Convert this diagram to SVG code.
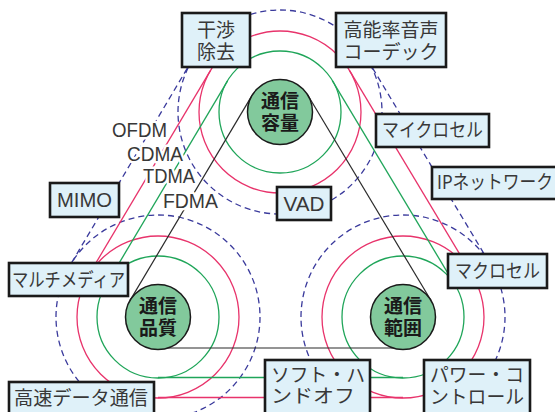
<svg xmlns="http://www.w3.org/2000/svg" width="555" height="412" viewBox="0 0 555 412">
<style>
.bg{fill:#ffffff}
.g{fill:none;stroke:#1fa559;stroke-width:1.3}
.r{fill:none;stroke:#e8336b;stroke-width:1.3}
.d{fill:none;stroke:#3a3a9c;stroke-width:1.3;stroke-dasharray:6 4}
.k{fill:none;stroke:#2a2a2a;stroke-width:1.2}
.node{fill:#82c99c;stroke:#1a1a1a;stroke-width:1.5}
.nt{font-family:"Noto Sans CJK JP","Noto Sans CJK SC",sans-serif;font-size:19px;font-weight:bold;fill:#1a1a1a;text-anchor:middle}
.box{fill:#dff1f9;stroke:#1a1a1a;stroke-width:2.6}
.bt{font-family:"Noto Sans CJK JP","Noto Sans CJK SC",sans-serif;font-size:19px;fill:#383838}
.lt{font-family:"Liberation Sans",Arial,sans-serif;font-size:20px;fill:#383838}
.c{text-anchor:middle}
.halo{paint-order:stroke;stroke:#ffffff;stroke-width:5;stroke-linejoin:round}
</style>
<rect class="bg" x="0" y="0" width="555" height="412"/>
<g id="rings">
<circle class="g" cx="280" cy="112" r="61"/>
<circle class="r" cx="280" cy="112" r="81"/>
<circle class="d" cx="280" cy="112" r="102"/>
<circle class="g" cx="158" cy="317" r="61"/>
<circle class="r" cx="158" cy="317" r="81"/>
<circle class="d" cx="158" cy="317" r="102"/>
<circle class="g" cx="403" cy="317" r="61"/>
<circle class="r" cx="403" cy="317" r="81"/>
<circle class="d" cx="403" cy="317" r="102"/>
</g>
<g id="connectors">
<line class="g" x1="227.58" y1="80.8" x2="105.58" y2="285.8"/>
<line class="g" x1="332.31" y1="80.62" x2="455.31" y2="285.62"/>
<line class="g" x1="158" y1="377.5" x2="403" y2="377.5"/>
<line class="r" x1="210.39" y1="70.58" x2="88.39" y2="275.58"/>
<line class="r" x1="349.46" y1="70.33" x2="472.46" y2="275.33"/>
<line class="r" x1="158" y1="397.5" x2="403" y2="397.5"/>
<line class="d" x1="192.34" y1="59.84" x2="70.34" y2="264.84"/>
<line class="d" x1="367.47" y1="59.52" x2="490.47" y2="264.52"/>
<line class="d" x1="158" y1="419" x2="403" y2="419"/>
<line class="k" x1="252.07" y1="95.38" x2="130.07" y2="300.38"/>
<line class="k" x1="307.87" y1="95.28" x2="430.87" y2="300.28"/>
<line class="k" x1="158" y1="348" x2="403" y2="348"/>
</g>
<g id="n-capacity">
<circle class="node" cx="280" cy="112" r="32.5"/>
<text class="nt" x="280" y="107.5">通信</text>
<text class="nt" x="280" y="130">容量</text>
</g>
<g id="n-quality">
<circle class="node" cx="158" cy="317" r="32.5"/>
<text class="nt" x="158" y="312.5">通信</text>
<text class="nt" x="158" y="335">品質</text>
</g>
<g id="n-coverage">
<circle class="node" cx="403" cy="317" r="32.5"/>
<text class="nt" x="403" y="312.5">通信</text>
<text class="nt" x="403" y="335">範囲</text>
</g>
<g id="labels">
<text class="lt halo" x="112" y="137" textLength="55" lengthAdjust="spacingAndGlyphs">OFDM</text>
<text class="lt halo" x="127" y="161" textLength="56" lengthAdjust="spacingAndGlyphs">CDMA</text>
<text class="lt halo" x="143" y="183" textLength="52" lengthAdjust="spacingAndGlyphs">TDMA</text>
<text class="lt halo" x="163" y="208" textLength="55" lengthAdjust="spacingAndGlyphs">FDMA</text>
</g>
<g id="b-interference">
<rect class="box" x="182" y="13" width="68" height="54"/>
<text class="bt c" x="216" y="37">干渉</text>
<text class="bt c" x="216" y="59">除去</text>
</g>
<g id="b-codec">
<rect class="box" x="336" y="13" width="110" height="54"/>
<text class="bt c" x="391" y="37">高能率音声</text>
<text class="bt c" x="391" y="59">コーデック</text>
</g>
<g id="b-microcell">
<rect class="box" x="376" y="114" width="113" height="33"/>
<text class="bt c" x="432.5" y="137" textLength="101" lengthAdjust="spacingAndGlyphs">マイクロセル</text>
</g>
<g id="b-ipnet">
<rect class="box" x="432" y="167" width="130" height="32"/>
<text class="bt" x="437" y="189" textLength="116" lengthAdjust="spacingAndGlyphs">IPネットワーク</text>
</g>
<g id="b-mimo">
<rect class="box" x="50" y="183" width="69" height="34"/>
<text class="lt c" x="84.5" y="207" textLength="55" lengthAdjust="spacingAndGlyphs">MIMO</text>
</g>
<g id="b-vad">
<rect class="box" x="277" y="187" width="54" height="33"/>
<text class="lt c" x="304" y="211" textLength="41" lengthAdjust="spacingAndGlyphs">VAD</text>
</g>
<g id="b-multimedia">
<rect class="box" x="9" y="263" width="119" height="33"/>
<text class="bt c" x="68.5" y="287" textLength="113" lengthAdjust="spacingAndGlyphs">マルチメディア</text>
</g>
<g id="b-macrocell">
<rect class="box" x="448" y="254" width="99" height="34"/>
<text class="bt c" x="497.5" y="278" textLength="85" lengthAdjust="spacingAndGlyphs">マクロセル</text>
</g>
<g id="b-highspeed">
<rect class="box" x="9" y="382" width="145" height="40"/>
<text class="bt" x="14" y="405" textLength="134" lengthAdjust="spacingAndGlyphs">高速データ通信</text>
</g>
<g id="b-handoff">
<rect class="box" x="265" y="360" width="105" height="60"/>
<text class="bt" x="271" y="382" textLength="94" lengthAdjust="spacingAndGlyphs">ソフト・ハ</text>
<text class="bt" x="271" y="403" textLength="84" lengthAdjust="spacingAndGlyphs">ンドオフ</text>
</g>
<g id="b-power">
<rect class="box" x="424" y="360" width="106" height="60"/>
<text class="bt" x="430" y="382" textLength="94" lengthAdjust="spacingAndGlyphs">パワー・コ</text>
<text class="bt" x="430" y="404" textLength="94" lengthAdjust="spacingAndGlyphs">ントロール</text>
</g>
</svg>
